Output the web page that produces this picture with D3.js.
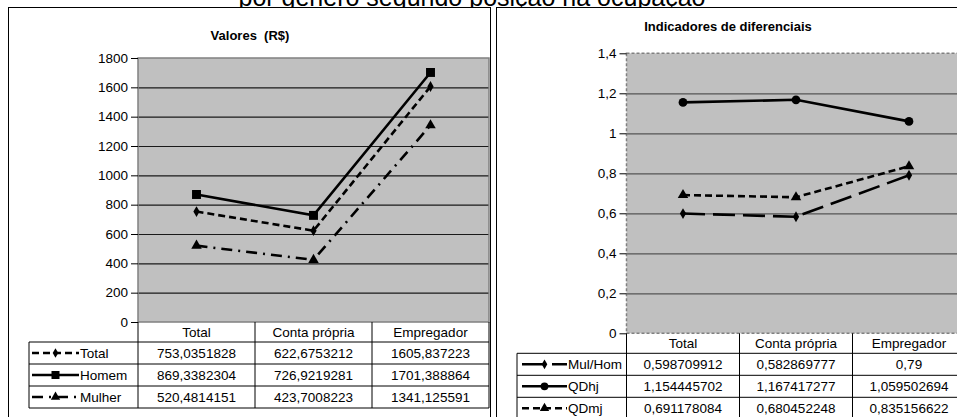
<!DOCTYPE html>
<html>
<head>
<meta charset="utf-8">
<script src="https://cdn.jsdelivr.net/npm/d3@7"></script>
<style>
  html, body { margin: 0; padding: 0; background: #fff; overflow: hidden; }
  svg { display: block; font-family: "Liberation Sans", Arial, sans-serif; }
</style>
</head>
<body>
<script>
// data
const categories = ["Total", "Conta própria", "Empregador"];

const valoresNames = ["Total", "Homem", "Mulher"];
const valoresTotal = [753.0351828, 622.6753212, 1605.837223];
const valoresHomem = [869.3382304, 726.9219281, 1701.388864];
const valoresMulher = [520.4814151, 423.7008223, 1341.125591];
const valoresTicks = [0, 200, 400, 600, 800, 1000, 1200, 1400, 1600, 1800];

const indicNames = ["Mul/Hom", "QDhj", "QDmj"];
const indicMulHom = [0.598709912, 0.582869777, 0.79];
const indicQDhj = [1.154445702, 1.167417277, 1.059502694];
const indicQDmj = [0.691178084, 0.680452248, 0.835156622];
const indicTicks = [0, 0.2, 0.4, 0.6, 0.8, 1, 1.2, 1.4];

const pageTitle = "por gênero segundo posição na ocupação";

// styles per series
const seriesStyle = {
  "Total":   { dash: "7,4", symbol: d3.symbolDiamond, size: 34 },
  "Homem":   { dash: null, symbol: d3.symbolSquare, size: 80 },
  "Mulher":  { dash: "11,6,2,6", symbol: d3.symbolTriangle, size: 48 },
  "Mul/Hom": { dash: "22,8", symbol: d3.symbolDiamond, size: 34 },
  "QDhj":    { dash: null, symbol: d3.symbolCircle, size: 60 },
  "QDmj":    { dash: "7,4", symbol: d3.symbolTriangle, size: 48 }
};

const commaNum = (v) => String(v).replace(".", ",");

const svg = d3.select("body").append("svg").attr("width", 957).attr("height", 417);

// page title, mostly hidden behind the panels
svg.append("text")
  .attr("x", 472)
  .attr("y", 6)
  .attr("text-anchor", "middle")
  .attr("font-size", 25)
  .text(pageTitle);

function drawChart(config) {
  const {
    panel, title, titleX, titleY, left, right, top, bottom, domain, ticks, tickFormat,
    names, values, legendLeft, swatch, textX, headerH, rowH, frameDash, gridColor
  } = config;

  const g = svg.append("g");

  g.append("rect")
    .attr("x", panel.x).attr("y", panel.y)
    .attr("width", panel.w).attr("height", panel.h)
    .attr("fill", "#fff").attr("stroke", "#000").attr("stroke-width", 1);

  g.append("text")
    .attr("x", titleX).attr("y", titleY)
    .attr("text-anchor", "middle")
    .attr("font-size", 13).attr("font-weight", "bold")
    .style("white-space", "pre")
    .text(title);

  const x = d3.scaleBand().domain(categories).range([left, right]);
  const y = d3.scaleLinear().domain(domain).range([bottom, top]);
  const cx = (i) => x(categories[i]) + x.bandwidth() / 2;

  // plot area
  g.append("rect")
    .attr("x", left).attr("y", top)
    .attr("width", right - left).attr("height", bottom - top)
    .attr("fill", "#c0c0c0");

  // grid lines
  g.append("g")
    .attr("transform", `translate(${left},0)`)
    .call(d3.axisLeft(y).tickValues(ticks.slice(1, -1)).tickSize(-(right - left)).tickFormat("").tickSizeOuter(0))
    .call((s) => s.select(".domain").remove())
    .selectAll("line").attr("stroke", gridColor).attr("stroke-width", 1.2);

  // frame
  g.append("rect")
    .attr("x", left).attr("y", top)
    .attr("width", right - left).attr("height", bottom - top)
    .attr("fill", "none").attr("stroke", "#808080").attr("stroke-width", 1.5)
    .attr("stroke-dasharray", frameDash);

  // y axis
  const axis = g.append("g")
    .attr("transform", `translate(${left},0)`)
    .call(d3.axisLeft(y).tickValues(ticks).tickSize(7).tickPadding(3).tickSizeOuter(0).tickFormat(tickFormat));
  axis.select(".domain").remove();
  axis.selectAll("text").attr("font-size", 13.5).attr("font-family", null).attr("fill", "#000");
  axis.selectAll("line").attr("stroke", "#000");

  // series
  const line = d3.line().x((d, i) => cx(i)).y((d) => y(d));
  names.forEach((name, k) => {
    const st = seriesStyle[name];
    g.append("path")
      .attr("d", line(values[k]))
      .attr("fill", "none").attr("stroke", "#000").attr("stroke-width", 2.6)
      .attr("stroke-dasharray", st.dash);
    g.selectAll(null)
      .data(values[k])
      .join("path")
      .attr("transform", (d, i) => `translate(${cx(i)},${y(d)})`)
      .attr("d", d3.symbol().type(st.symbol).size(st.size))
      .attr("fill", "#000");
  });

  // data table
  const headerBottom = bottom + headerH;
  const tableBottom = headerBottom + rowH * names.length;
  const tl = g.append("g").attr("stroke", "#000").attr("stroke-width", 1);
  [headerBottom, ...names.map((n, i) => headerBottom + rowH * (i + 1))].forEach((yy) => {
    tl.append("line").attr("x1", legendLeft).attr("x2", right).attr("y1", yy).attr("y2", yy);
  });
  x.domain().map((c) => x(c)).concat([right]).forEach((xx) => {
    tl.append("line").attr("x1", xx).attr("x2", xx).attr("y1", bottom).attr("y2", tableBottom);
  });
  tl.append("line").attr("x1", legendLeft).attr("x2", legendLeft).attr("y1", headerBottom).attr("y2", tableBottom);

  g.selectAll(null)
    .data(categories)
    .join("text")
    .attr("x", (d, i) => cx(i))
    .attr("y", bottom + headerH / 2)
    .attr("dy", "0.36em")
    .attr("text-anchor", "middle")
    .attr("font-size", 13.5)
    .text((d) => d);

  names.forEach((name, k) => {
    const st = seriesStyle[name];
    const yy = headerBottom + rowH * (k + 0.5);
    g.append("line")
      .attr("x1", swatch[0]).attr("x2", swatch[1]).attr("y1", yy).attr("y2", yy)
      .attr("stroke", "#000").attr("stroke-width", 2.6)
      .attr("stroke-dasharray", st.dash);
    g.append("path")
      .attr("transform", `translate(${(swatch[0] + swatch[1]) / 2},${yy})`)
      .attr("d", d3.symbol().type(st.symbol).size(st.size * 0.8))
      .attr("fill", "#000");
    g.append("text")
      .attr("x", textX).attr("y", yy).attr("dy", "0.36em")
      .attr("font-size", 13.5)
      .text(name);
    g.selectAll(null)
      .data(values[k])
      .join("text")
      .attr("x", (d, i) => cx(i))
      .attr("y", yy).attr("dy", "0.36em")
      .attr("text-anchor", "middle")
      .attr("font-size", 13.5)
      .text((d) => commaNum(d));
  });
}

drawChart({
  panel: { x: 8.5, y: 7.5, w: 482, h: 440 },
  title: "Valores  (R$)",
  titleX: 250, titleY: 39.5,
  left: 138, right: 489, top: 58, bottom: 322,
  domain: [0, 1800], ticks: valoresTicks,
  tickFormat: (d) => String(d),
  names: valoresNames,
  values: [valoresTotal, valoresHomem, valoresMulher],
  legendLeft: 29, swatch: [32, 79], textX: 80,
  headerH: 20, rowH: 22,
  frameDash: null, gridColor: "#1a1a1a"
});

drawChart({
  panel: { x: 496.5, y: 7.5, w: 480, h: 440 },
  title: "Indicadores de diferenciais",
  titleX: 728, titleY: 31,
  left: 626.5, right: 965.5, top: 53.3, bottom: 333.3,
  domain: [0, 1.4], ticks: indicTicks,
  tickFormat: (d) => commaNum(+d.toFixed(1)),
  names: indicNames,
  values: [indicMulHom, indicQDhj, indicQDmj],
  legendLeft: 517, swatch: [522, 567], textX: 568,
  headerH: 20, rowH: 22,
  frameDash: "3,2", gridColor: "#555"
});
</script>
</body>
</html>
